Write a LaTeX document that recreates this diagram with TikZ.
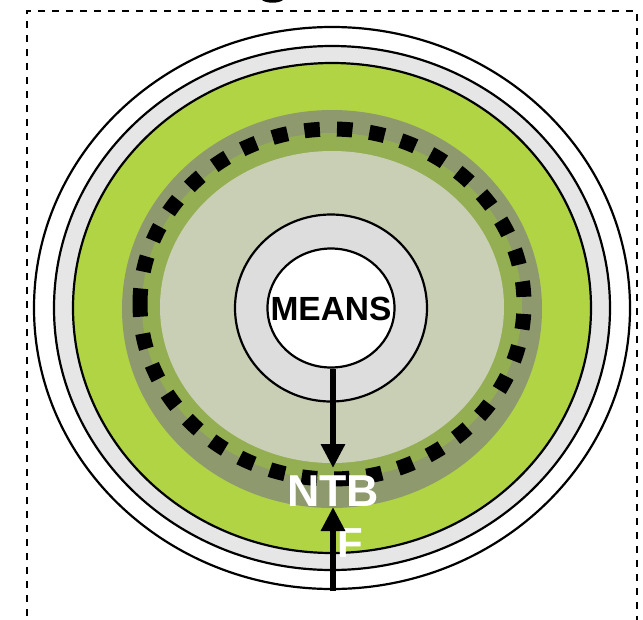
\documentclass[tikz,border=0pt]{standalone}
\usepackage{fontspec}
\setmainfont{Liberation Sans}
\usetikzlibrary{arrows.meta,shapes.geometric}

\definecolor{ringgray}{HTML}{E6E6E6}
\definecolor{meansgray}{HTML}{DDDDDD}
\definecolor{leafgreen}{HTML}{B1D445}
\definecolor{olivegray}{HTML}{8E9A6D}
\definecolor{olivegreen}{HTML}{94AE52}
\definecolor{palesage}{HTML}{C9CFB5}

\tikzset{
  outline/.style={draw=black, line width=2.2pt},
  frame/.style={draw=black, line width=2.2pt, dash pattern=on 7pt off 7pt},
  thickarrow/.style={draw=black, line width=6.5pt,
    -{Triangle[width=23pt,length=24pt]}},
  bigword/.style={font=\fontsize{44.7}{45}\selectfont\bfseries, text=white, inner sep=0pt},
  meansword/.style={font=\fontsize{33.5}{34}\selectfont\bfseries, text=black},
}

\begin{document}
\begin{tikzpicture}[x=1pt, y=-1pt]
  \useasboundingbox (0,0) rectangle (643,619);
  \clip (0,0) rectangle (643,619);

  % cut-off lettering above the frame
  \fill (262,0) .. controls (266,3.6) and (279,3.6) .. (283,0) -- cycle;

  % open dashed frame
  \draw[frame] (27,630) -- (27,11) -- (637,11) -- (637,630);

  % concentric rings
  \coordinate (c) at (332,308);
  \draw[outline, fill=white]      (c) ellipse [x radius=298pt, y radius=281pt];
  \draw[outline, fill=ringgray]   (c) ellipse [x radius=278pt, y radius=262pt];
  \draw[outline, fill=leafgreen]  (c) ellipse [x radius=259pt, y radius=245pt];
  \fill[olivegray]  (332,309) ellipse [x radius=210pt, y radius=199pt];
  \fill[olivegreen] (332,306) ellipse [x radius=190pt, y radius=173pt];
  \fill[palesage]   (332,307) ellipse [x radius=172pt, y radius=156pt];

  % dashed boundary of the inner band, seam on the left
  \draw[black, line width=15pt, dash pattern=on 15.5pt off 17.1pt]
    (140,304) arc [start angle=180, end angle=-180, x radius=192pt, y radius=175pt];

  % MEANS core
  \node[outline, fill=meansgray, ellipse, minimum width=192pt, minimum height=187pt,
        inner sep=0pt] (meansring) at (331,308) {};
  \node[outline, fill=white, ellipse, minimum width=127pt, minimum height=119pt,
        inner sep=0pt] (means) at (331,308) {};
  \node[meansword] (meanslabel) at (331,309) {MEANS};

  % labels
  \node[bigword] (ntb) at (333,491) {NTB};
  \node[bigword, font=\fontsize{42}{42}\selectfont\bfseries, anchor=west] (f) at (337,543) {F};

  % arrows
  \coordinate (toptip) at (333,468);
  \coordinate (bottip) at (333,507);
  \coordinate (base) at (333,591);
  \draw[thickarrow] (means.south -| toptip) -- (toptip);
  \draw[thickarrow] (base) -- (bottip);
\end{tikzpicture}
\end{document}
